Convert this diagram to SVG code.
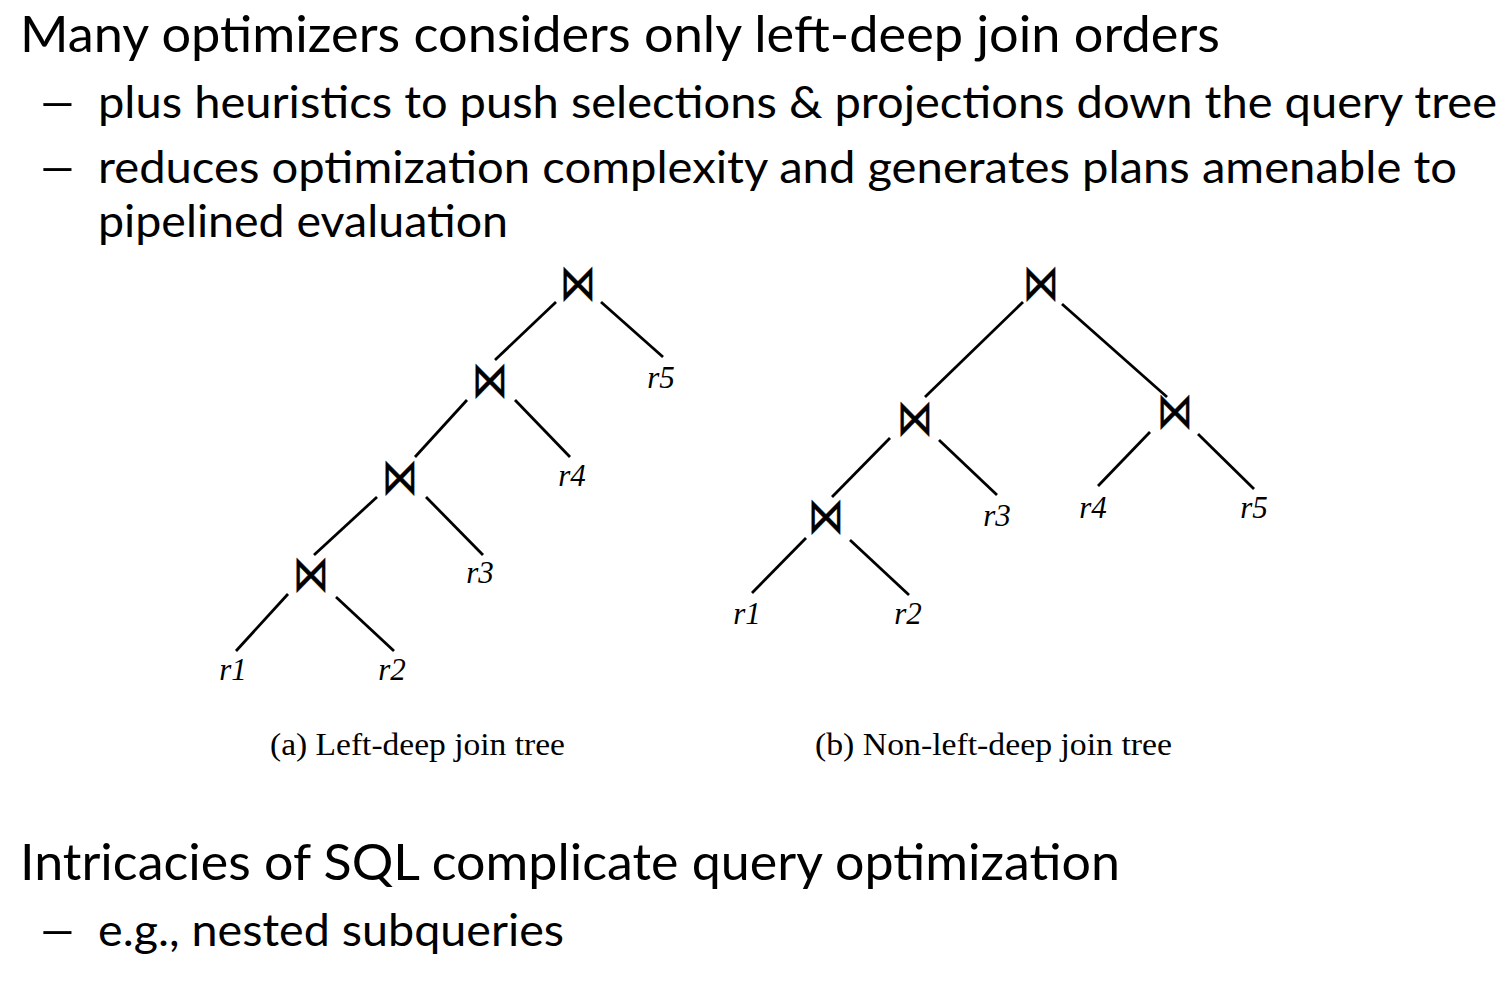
<svg xmlns="http://www.w3.org/2000/svg" width="1510" height="982" viewBox="0 0 1510 982">
<style>
.t{font-family:Lato,"Open Sans",sans-serif;fill:#000}
.h{font-size:50px}
.s{font-size:44px}
.j{font-family:"DejaVu Sans",sans-serif;font-size:36px;text-anchor:middle;fill:#000;stroke:#000;stroke-width:0.3}
.r{font-family:"Liberation Serif",serif;font-style:italic;font-size:31px;text-anchor:middle;fill:#000}
.c{font-family:"Liberation Serif",serif;font-size:31px;fill:#000}
.e line{stroke:#000;stroke-width:2.8;stroke-linecap:butt}
</style>
<rect width="1510" height="982" fill="#fff"/>
<g id="text">
<text class="t h" x="20" y="52" textLength="1200" lengthAdjust="spacingAndGlyphs">Many optimizers considers only left-deep join orders</text>
<text class="t s" transform="translate(37,118) scale(1.6,1)">–</text>
<text class="t s" x="98" y="118" textLength="1399" lengthAdjust="spacingAndGlyphs">plus heuristics to push selections &amp; projections down the query tree</text>
<text class="t s" transform="translate(37,183) scale(1.6,1)">–</text>
<text class="t s" x="98" y="183" textLength="1359" lengthAdjust="spacingAndGlyphs">reduces optimization complexity and generates plans amenable to</text>
<text class="t s" x="98" y="237" textLength="410" lengthAdjust="spacingAndGlyphs">pipelined evaluation</text>
<text class="t h" x="20" y="880" textLength="1100" lengthAdjust="spacingAndGlyphs">Intricacies of SQL complicate query optimization</text>
<text class="t s" transform="translate(37,946) scale(1.6,1)">–</text>
<text class="t s" x="98" y="946" textLength="466" lengthAdjust="spacingAndGlyphs">e.g., nested subqueries</text>
</g>
<g id="edges" class="e">
<line x1="556" y1="302" x2="495" y2="360"/>
<line x1="601" y1="302" x2="663" y2="357"/>
<line x1="467" y1="400" x2="415" y2="457"/>
<line x1="515" y1="400" x2="570" y2="457"/>
<line x1="377" y1="497" x2="314" y2="555"/>
<line x1="426" y1="497" x2="483" y2="555"/>
<line x1="288" y1="594" x2="236" y2="651"/>
<line x1="336" y1="597" x2="394" y2="651"/>
<line x1="1023" y1="302" x2="925" y2="397"/>
<line x1="1062" y1="304" x2="1167" y2="397"/>
<line x1="890" y1="438" x2="832" y2="497"/>
<line x1="939" y1="440" x2="997" y2="495"/>
<line x1="1150" y1="432" x2="1098" y2="486"/>
<line x1="1198" y1="434" x2="1254" y2="489"/>
<line x1="806" y1="538" x2="752" y2="593"/>
<line x1="850" y1="540" x2="909" y2="595"/>
</g>
<g id="treeA">
<g id="a1"><text class="j" transform="translate(578,300) scale(1,1.4)">⋈</text></g>
<g id="a2"><text class="j" transform="translate(490,397) scale(1,1.4)">⋈</text></g>
<g id="a3"><text class="j" transform="translate(400,494) scale(1,1.4)">⋈</text></g>
<g id="a4"><text class="j" transform="translate(311,591) scale(1,1.4)">⋈</text></g>
<g id="ar5"><text class="r" x="661" y="388">r5</text></g>
<g id="ar4"><text class="r" x="572" y="486">r4</text></g>
<g id="ar3"><text class="r" x="480" y="583">r3</text></g>
<g id="ar1"><text class="r" x="233" y="680">r1</text></g>
<g id="ar2"><text class="r" x="392" y="680">r2</text></g>
<text class="c" x="270" y="755" textLength="295" lengthAdjust="spacingAndGlyphs">(a) Left-deep join tree</text>
</g>
<g id="treeB">
<g id="b1"><text class="j" transform="translate(1041,300) scale(1,1.4)">⋈</text></g>
<g id="b2"><text class="j" transform="translate(915,435) scale(1,1.4)">⋈</text></g>
<g id="b3"><text class="j" transform="translate(1175,428) scale(1,1.4)">⋈</text></g>
<g id="b4"><text class="j" transform="translate(826,533) scale(1,1.4)">⋈</text></g>
<g id="br3"><text class="r" x="997" y="526">r3</text></g>
<g id="br4"><text class="r" x="1093" y="518">r4</text></g>
<g id="br5"><text class="r" x="1254" y="518">r5</text></g>
<g id="br1"><text class="r" x="747" y="624">r1</text></g>
<g id="br2"><text class="r" x="908" y="624">r2</text></g>
<text class="c" x="815" y="755" textLength="357" lengthAdjust="spacingAndGlyphs">(b) Non-left-deep join tree</text>
</g>
</svg>
